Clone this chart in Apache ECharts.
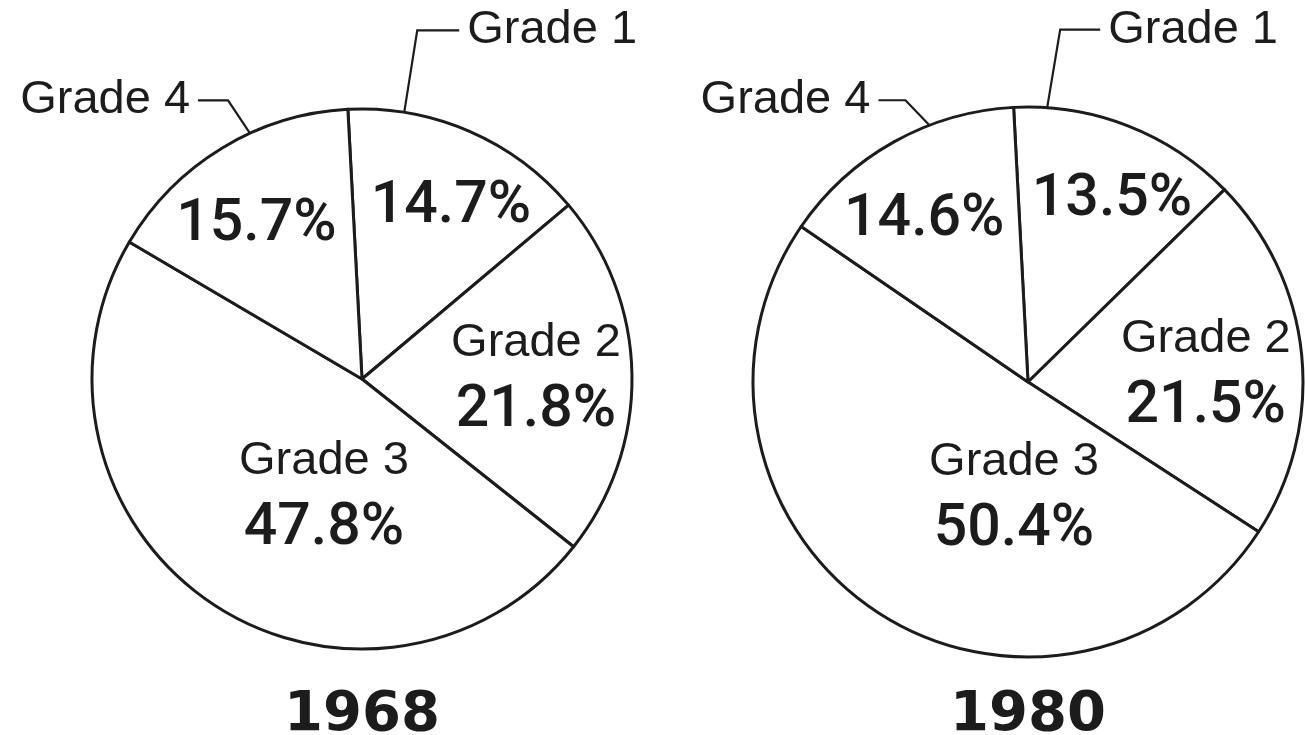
<!DOCTYPE html>
<html>
<head>
<meta charset="utf-8">
<title>Grades 1968 / 1980</title>
<script src="https://cdn.jsdelivr.net/npm/echarts@6/dist/echarts.min.js"></script>
<style>
  html, body { margin: 0; padding: 0; background: #fff; }
  #grade-pies { width: 1305px; height: 735px; }
</style>
</head>
<body>
<div id="grade-pies"></div>
<script>
  const grades = ['Grade 1', 'Grade 2', 'Grade 3', 'Grade 4'];
  const share1968 = [14.7, 21.8, 47.8, 15.7];
  const share1980 = [13.5, 21.5, 50.4, 14.6];
  const years = ['1968', '1980'];
  // names written inside their slice, the rest get a leader line outside
  const namedInside = ['Grade 2', 'Grade 3'];

  const ink = '#1c1c1c';
  const font = 'Liberation Sans';

  // geometry + label nudges per pie (style only)
  const pies = [
    {
      year: years[0], values: share1968, center: [362, 379], r: 270,
      nudge: [[34, -45], [36, 2], [40, 4], [-34, -36]],
      leaders: {
        'Grade 1': { angle: 81, dx: 13, dy: -82, run: 42 },
        'Grade 4': { angle: 114.5, dx: -22, dy: -33, run: -30 }
      }
    },
    {
      year: years[1], values: share1980, center: [1028, 382], r: 275,
      nudge: [[33, -51], [38, 7], [64, -1], [-35, -39]],
      leaders: {
        'Grade 1': { angle: 86, dx: 13, dy: -78, run: 40 },
        'Grade 4': { angle: 111, dx: -24, dy: -25, run: -27 }
      }
    }
  ];

  const chart = echarts.init(document.getElementById('grade-pies'));

  const series = [];
  const titles = [];
  pies.forEach(pie => {
    // slices with the percentages inside
    series.push({
      type: 'pie',
      center: pie.center,
      radius: [0, pie.r],
      startAngle: 93,
      clockwise: true,
      avoidLabelOverlap: false,
      silent: true,
      itemStyle: { color: '#fff', borderColor: ink, borderWidth: 3 },
      label: {
        show: true,
        position: 'inside',
        color: ink,
        formatter: p => namedInside.includes(p.name)
          ? '{n|' + p.name + '}\n{p|' + p.value.toFixed(1) + '%}'
          : '{p|' + p.value.toFixed(1) + '%}',
        rich: {
          n: { fontFamily: font, fontSize: 47, lineHeight: 64, color: ink },
          p: { fontFamily: 'Roboto', fontSize: 59, fontWeight: 500, lineHeight: 72, color: ink }
        }
      },
      labelLine: { show: false },
      labelLayout: p => ({ dx: pie.nudge[p.dataIndex][0], dy: pie.nudge[p.dataIndex][1] }),
      data: grades.map((g, i) => ({ name: g, value: pie.values[i] }))
    });

    // same slices again, invisible, only to carry the outside names
    series.push({
      type: 'pie',
      center: pie.center,
      radius: [0, pie.r],
      startAngle: 93,
      clockwise: true,
      avoidLabelOverlap: false,
      silent: true,
      z: 3,
      itemStyle: { color: 'transparent', borderWidth: 0 },
      label: {
        position: 'outside',
        color: ink,
        fontFamily: font,
        fontSize: 47,
        formatter: '{b}'
      },
      labelLine: { lineStyle: { color: ink, width: 2.2 } },
      labelLayout: p => {
        const ld = pie.leaders[grades[p.dataIndex]];
        if (!ld) return {};
        const a = ld.angle * Math.PI / 180;
        const x0 = pie.center[0] + pie.r * Math.cos(a);
        const y0 = pie.center[1] - pie.r * Math.sin(a);
        const x1 = x0 + ld.dx, y1 = y0 + ld.dy;
        const x2 = x1 + ld.run;
        return {
          x: x2 + (ld.run > 0 ? 8 : -8),
          y: y1,
          align: ld.run > 0 ? 'left' : 'right',
          verticalAlign: 'middle',
          labelLinePoints: [[x0, y0], [x1, y1], [x2, y1]]
        };
      },
      data: grades.map((g, i) => {
        const out = !!pie.leaders[g];
        return { name: g, value: pie.values[i], label: { show: out }, labelLine: { show: out } };
      })
    });

    titles.push({
      text: pie.year,
      left: pie.center[0],
      top: 687,
      textAlign: 'center',
      padding: 0,
      textStyle: { fontFamily: 'DejaVu Sans', fontSize: 56, fontWeight: 'bold', color: ink }
    });
  });

  chart.setOption({
    backgroundColor: '#fff',
    animation: false,
    title: titles,
    series: series
  });
</script>
</body>
</html>
